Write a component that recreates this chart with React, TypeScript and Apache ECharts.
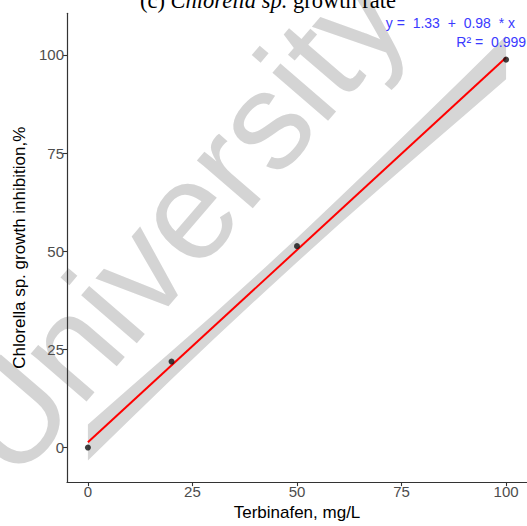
import React, { useEffect, useRef } from "react";
import * as echarts from "echarts";

// Observed data points
const concX = [0, 20, 50, 100];
const inhibY = [0, 21.9, 51.3, 98.8];

const fitX = [0, 100];
const fitY = [1.33, 99.33];

// Confidence ribbon
const bandX = [0, 10, 20, 30, 42.5, 50, 60, 70, 80, 90, 100];
const bandLower = [-3.3, 7.1, 17.4, 27.5, 39.9, 47.2, 56.8, 66.2, 75.4, 84.6, 93.8];
const bandUpper = [5.9, 15.2, 24.5, 33.9, 46.0, 53.4, 63.5, 73.7, 84.0, 94.4, 104.9];

const xTicks = [0, 25, 50, 75, 100];
const yTicks = [0, 25, 50, 75, 100];

const eqLine1 = "y =  1.33  +  0.98  * x";
const eqLine2 = "R² =  0.999";

export default function App() {
  const ref = useRef<HTMLDivElement>(null);
  useEffect(() => {
    if (!ref.current) return;
    const chart = echarts.init(ref.current, null, { renderer: "svg" });
    const font = "Liberation Sans, Arial, sans-serif";
    const serif = "Liberation Serif, Times New Roman, serif";
    chart.setOption({
      animation: false,
      backgroundColor: "#ffffff",
      title: [
        {
          text: "{n|(c) }{i|Chlorella sp.}{n| growth rate}",
          left: 268,
          top: -12.8,
          textAlign: "center",
          padding: 0,
          z: 30,
          textStyle: {
            rich: {
              n: { fontFamily: serif, fontSize: 22.5, lineHeight: 26, color: "#000", fontWeight: "normal" },
              i: { fontFamily: serif, fontSize: 22.5, lineHeight: 26, fontStyle: "italic", color: "#000", fontWeight: "normal" },
            },
          },
        },
        {
          text: eqLine1,
          right: 12,
          top: 15,
          padding: 0,
          z: 30,
          textStyle: { fontFamily: font, fontSize: 14, lineHeight: 16, color: "#3a3aff", fontWeight: "normal" },
        },
        {
          text: eqLine2,
          right: 1,
          top: 34,
          padding: 0,
          z: 30,
          textStyle: { fontFamily: font, fontSize: 14, lineHeight: 16, color: "#3a3aff", fontWeight: "normal" },
        },
      ],
      grid: { left: 67, top: 13.3, width: 467, height: 474.4, containLabel: false },
      xAxis: {
        type: "value",
        z: 20,
        min: -5,
        max: 105,
        name: "Terbinafen, mg/L",
        nameLocation: "middle",
        nameGap: 21,
        nameTextStyle: { color: "#000", fontSize: 17, fontFamily: font },
        axisLine: { show: true, onZero: false, lineStyle: { color: "#333", width: 1.2 } },
        axisTick: { show: true, length: 4, customValues: xTicks, lineStyle: { color: "#333", width: 1.1 } },
        axisLabel: { customValues: xTicks, color: "#4d4d4d", fontSize: 15, margin: 2, fontFamily: font },
        splitLine: { show: false },
      },
      yAxis: {
        type: "value",
        z: 20,
        min: -8.8,
        max: 110.6,
        name: "Chlorella sp. growth inhibition,%",
        nameLocation: "middle",
        nameGap: 34,
        nameTextStyle: { color: "#000", fontSize: 17, fontFamily: font },
        axisLine: { show: true, onZero: false, lineStyle: { color: "#333", width: 1.2 } },
        axisTick: { show: true, length: 4, customValues: yTicks, lineStyle: { color: "#333", width: 1.1 } },
        axisLabel: { customValues: yTicks, color: "#4d4d4d", fontSize: 15, margin: 3, fontFamily: font },
        splitLine: { show: false },
      },
      graphic: [
        {
          z: -10,
          elements: [
            {
              type: "text",
              z: -10,
              silent: true,
              x: 177,
              y: 222,
              rotation: 0.86,
              style: {
                text: "University",
                fontSize: 139,
                fontFamily: font,
                fill: "rgba(160,160,160,0.45)",
                align: "center",
                verticalAlign: "middle",
              },
            },
          ],
        },
      ],
      series: [
        {
          type: "custom",
          silent: true,
          z: 1,
          data: bandX.map((x, i) => [x, bandLower[i], bandUpper[i]]),
          encode: { x: 0, y: [1, 2] },
          renderItem: (params: any, api: any) => {
            if (params.dataIndex !== 0) return null;
            const up = bandX.map((x, i) => api.coord([x, bandUpper[i]]));
            const lo = bandX.map((x, i) => api.coord([x, bandLower[i]])).reverse();
            return {
              type: "polygon",
              shape: { points: up.concat(lo) },
              style: { fill: "#d6d6d6", stroke: "none" },
            };
          },
        },
        {
          type: "line",
          z: 3,
          data: fitX.map((x, i) => [x, fitY[i]]),
          showSymbol: false,
          lineStyle: { color: "#ff0000", width: 2 },
        },
        {
          type: "scatter",
          z: 4,
          data: concX.map((x, i) => [x, inhibY[i]]),
          symbolSize: 6,
          itemStyle: { color: "#111" },
        },
      ],
    });
    return () => chart.dispose();
  }, []);
  return <div ref={ref} style={{ width: 527, height: 526, position: "absolute", left: 0, top: 0 }} />;
}
